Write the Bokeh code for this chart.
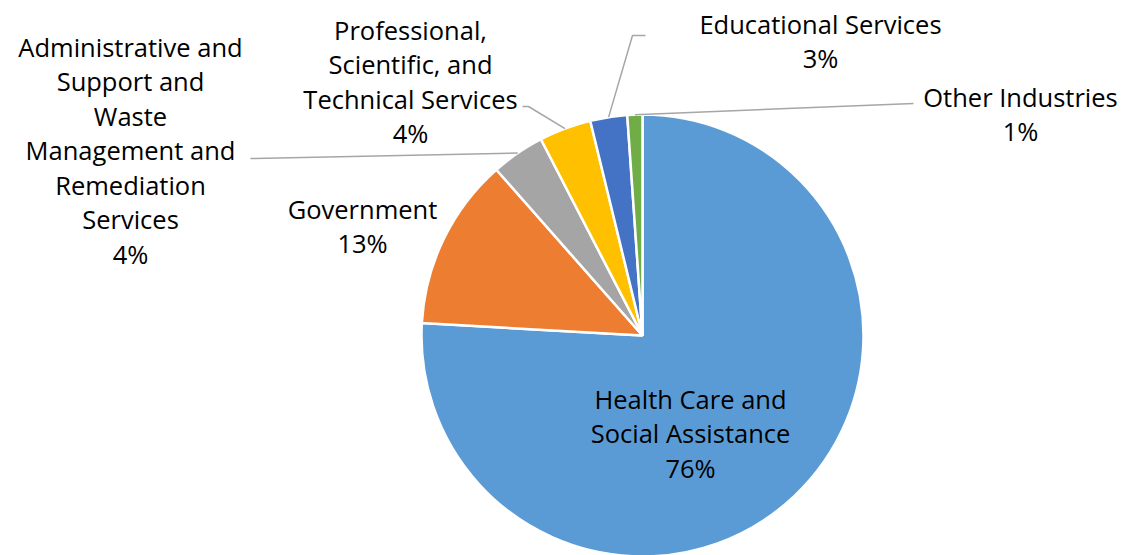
import math
from bokeh.plotting import figure
from bokeh.models import Range1d, ColumnDataSource
from bokeh.embed import file_html
from bokeh.resources import INLINE
from bokeh.core.properties import value

# ---- data ----
industries = [
    "Health Care and Social Assistance",
    "Government",
    "Administrative and Support and Waste Management and Remediation Services",
    "Professional, Scientific, and Technical Services",
    "Educational Services",
    "Other Industries",
]
shares = [75.9, 12.6, 3.9, 3.8, 2.7, 1.1]
label_lines = [
    ["Health Care and", "Social Assistance"],
    ["Government"],
    ["Administrative and", "Support and", "Waste", "Management and", "Remediation", "Services"],
    ["Professional,", "Scientific, and", "Technical Services"],
    ["Educational Services"],
    ["Other Industries"],
]
colors = ["#5B9BD5", "#ED7D31", "#A5A5A5", "#FFC000", "#4472C4", "#70AD47"]

# ---- layout (page pixels) ----
W, H = 1126, 555
CX, CY, R = 642, 335, 221
label_anchor = [(690, 398), (362, 208), (130, 46), (410, 29), (820, 23), (1020, 96)]
LINE_STEP = 34.5
leader_elbows = [None, None, [(250, 158)], [(522, 106), (528, 106)], [(645, 35), (632, 35)], [(913, 103)]]
FONT = "Open Sans"
FSIZE = "25.5px"


def Y(py):
    return -py


p = figure(width=W, height=H, x_range=Range1d(0, W), y_range=Range1d(-H, 0),
           output_backend="svg", toolbar_location=None, min_border=0)
p.axis.visible = False
p.grid.visible = False
p.outline_line_color = None
p.background_fill_color = "white"
p.border_fill_color = "white"

total = sum(shares)
starts, ends, mids = [], [], []
cum = 0.0
for s in shares:
    a0 = math.pi / 2 - 2 * math.pi * cum / total
    cum += s
    a1 = math.pi / 2 - 2 * math.pi * cum / total
    starts.append(a0)
    ends.append(a1)
    mids.append((a0 + a1) / 2)

src = ColumnDataSource(dict(x=[CX] * len(shares), y=[Y(CY)] * len(shares),
                            start=starts, end=ends, color=colors, name=industries))
p.wedge(x="x", y="y", radius=R, start_angle="start", end_angle="end", direction="clock",
        fill_color="color", line_color="white", line_width=2.5, source=src)

# leader lines
for i, elbows in enumerate(leader_elbows):
    if elbows is None:
        continue
    ex = CX + R * math.cos(mids[i])
    ey = CY - R * math.sin(mids[i])
    xs = [e[0] for e in elbows] + [ex]
    ys = [Y(e[1]) for e in elbows] + [Y(ey)]
    p.line(xs, ys, line_color="#A6A6A6", line_width=1.5)

# labels
tx, ty, tt = [], [], []
for i, lines in enumerate(label_lines):
    ax, ay = label_anchor[i]
    allines = lines + [f"{round(shares[i] / total * 100)}%"]
    for k, t in enumerate(allines):
        tx.append(ax)
        ty.append(Y(ay + k * LINE_STEP))
        tt.append(t)
p.text(x=tx, y=ty, text=tt, text_align="center", text_baseline="middle",
       text_font=value(FONT), text_font_size=FSIZE, text_color="black")

open("out.html", "w").write(file_html(p, INLINE))
